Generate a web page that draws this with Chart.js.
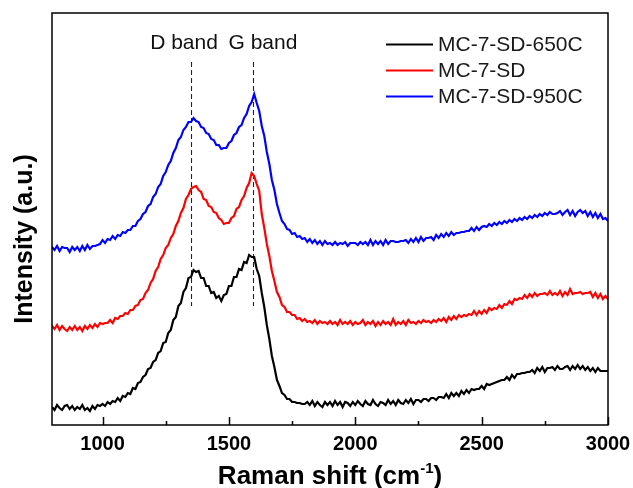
<!DOCTYPE html>
<html>
<head>
<meta charset="utf-8">
<script src="https://cdn.jsdelivr.net/npm/chart.js@4.4.1/dist/chart.umd.min.js"></script>
<style>
  html, body { margin: 0; padding: 0; background: #fff; }
  #wrap { width: 633px; height: 488px; }
</style>
</head>
<body>
<div id="wrap"><canvas id="raman" width="633" height="488"></canvas></div>
<script>
'use strict';

// Raman shift grid (cm-1)
const ramanShift = [
  800, 810, 820, 830, 840, 850, 860, 870, 880, 890,
  900, 910, 920, 930, 940, 950, 960, 970, 980, 990,
  1000, 1010, 1020, 1030, 1040, 1050, 1060, 1070, 1080, 1090,
  1100, 1110, 1120, 1130, 1140, 1150, 1160, 1170, 1180, 1190,
  1200, 1210, 1220, 1230, 1240, 1250, 1260, 1270, 1280, 1290,
  1300, 1310, 1320, 1330, 1340, 1350, 1360, 1370, 1380, 1390,
  1400, 1410, 1420, 1430, 1440, 1450, 1460, 1470, 1480, 1490,
  1500, 1510, 1520, 1530, 1540, 1550, 1560, 1570, 1580, 1590,
  1600, 1610, 1620, 1630, 1640, 1650, 1660, 1670, 1680, 1690,
  1700, 1710, 1720, 1730, 1740, 1750, 1760, 1770, 1780, 1790,
  1800, 1810, 1820, 1830, 1840, 1850, 1860, 1870, 1880, 1890,
  1900, 1910, 1920, 1930, 1940, 1950, 1960, 1970, 1980, 1990,
  2000, 2010, 2020, 2030, 2040, 2050, 2060, 2070, 2080, 2090,
  2100, 2110, 2120, 2130, 2140, 2150, 2160, 2170, 2180, 2190,
  2200, 2210, 2220, 2230, 2240, 2250, 2260, 2270, 2280, 2290,
  2300, 2310, 2320, 2330, 2340, 2350, 2360, 2370, 2380, 2390,
  2400, 2410, 2420, 2430, 2440, 2450, 2460, 2470, 2480, 2490,
  2500, 2510, 2520, 2530, 2540, 2550, 2560, 2570, 2580, 2590,
  2600, 2610, 2620, 2630, 2640, 2650, 2660, 2670, 2680, 2690,
  2700, 2710, 2720, 2730, 2740, 2750, 2760, 2770, 2780, 2790,
  2800, 2810, 2820, 2830, 2840, 2850, 2860, 2870, 2880, 2890,
  2900, 2910, 2920, 2930, 2940, 2950, 2960, 2970, 2980, 2990,
  3000
];

// stacked intensities (a.u., offsets included)
const mc650 = [
  18, 15, 20, 17, 15, 19, 20, 16, 19, 15,
  18, 16, 20, 15, 17, 14, 19, 16, 20, 19,
  21, 19, 23, 21, 24, 23, 27, 24, 29, 28,
  32, 31, 37, 36, 42, 43, 48, 50, 56, 57,
  63, 65, 72, 74, 82, 83, 92, 95, 105, 108,
  119, 122, 133, 137, 147, 148, 155, 153, 154, 147,
  147, 139, 139, 132, 133, 127, 129, 124, 130, 131,
  139, 139, 148, 148, 156, 155, 163, 162, 170, 168,
  168, 156, 149, 132, 118, 100, 86, 69, 58, 45,
  39, 32, 30, 26, 26, 23, 23, 22, 22, 21,
  21, 23, 20, 24, 19, 23, 20, 18, 23, 20,
  23, 19, 24, 20, 23, 18, 23, 22, 19, 23,
  20, 24, 21, 19, 24, 21, 20, 25, 21, 19,
  23, 22, 20, 25, 21, 24, 20, 25, 22, 21,
  25, 22, 26, 21, 25, 25, 23, 26, 26, 24,
  27, 27, 25, 28, 28, 27, 31, 27, 32, 29,
  32, 29, 34, 31, 35, 32, 36, 35, 36, 36,
  39, 36, 41, 40, 41, 42, 43, 44, 45, 45,
  48, 45, 50, 47, 51, 51, 52, 52, 53, 53,
  55, 52, 57, 54, 58, 53, 57, 57, 58, 55,
  59, 56, 56, 58, 59, 55, 59, 56, 60, 56,
  59, 55, 58, 54, 57, 53, 57, 54, 54, 54,
  54
];

const mcSD = [
  99, 96, 100, 95, 99, 96, 94, 98, 95, 99,
  95, 98, 94, 99, 96, 100, 97, 101, 98, 102,
  101, 102, 102, 105, 102, 107, 106, 109, 109, 112,
  111, 115, 115, 119, 120, 125, 126, 132, 135, 142,
  146, 154, 158, 166, 170, 177, 180, 187, 191, 199,
  204, 212, 217, 226, 230, 236, 238, 239, 235, 233,
  226, 225, 219, 218, 213, 212, 207, 205, 201, 202,
  202, 207, 209, 216, 218, 225, 229, 237, 242, 252,
  249, 241, 234, 211, 197, 181, 169, 154, 144, 133,
  128, 120, 118, 113, 113, 110, 110, 106, 107, 104,
  106, 103, 104, 102, 105, 101, 104, 102, 103, 101,
  104, 101, 103, 100, 105, 101, 103, 101, 104, 100,
  103, 101, 102, 105, 100, 103, 101, 104, 99, 103,
  100, 104, 101, 103, 100, 106, 100, 103, 101, 104,
  100, 105, 102, 103, 101, 104, 102, 105, 103, 104,
  102, 105, 103, 106, 104, 107, 103, 108, 105, 109,
  106, 110, 108, 110, 109, 111, 110, 114, 110, 114,
  111, 115, 112, 117, 115, 117, 116, 120, 117, 121,
  120, 124, 121, 126, 125, 127, 126, 130, 127, 131,
  128, 132, 129, 131, 131, 132, 130, 134, 130, 132,
  130, 134, 129, 133, 130, 136, 131, 132, 132, 133,
  131, 132, 132, 133, 128, 132, 127, 131, 126, 129,
  126
];

const mc950 = [
  178, 175, 179, 174, 178, 177, 177, 173, 178, 175,
  178, 174, 179, 175, 180, 176, 179, 179, 180, 181,
  185, 182, 186, 185, 189, 186, 190, 189, 193, 192,
  195, 195, 199, 199, 204, 206, 211, 213, 219, 221,
  228, 231, 238, 241, 249, 253, 260, 264, 272, 277,
  285, 288, 295, 298, 303, 303, 307, 304, 303, 298,
  297, 292, 291, 286, 285, 280, 280, 276, 277, 277,
  282, 284, 290, 292, 298, 300, 307, 311, 319, 323,
  331, 322, 314, 299, 289, 273, 261, 245, 235, 221,
  212, 204, 201, 196, 195, 191, 192, 188, 189, 186,
  187, 183, 186, 182, 185, 181, 184, 180, 184, 181,
  182, 180, 183, 180, 182, 181, 183, 179, 182, 182,
  182, 180, 183, 181, 183, 180, 185, 180, 184, 181,
  184, 180, 185, 181, 184, 184, 183, 183, 184, 184,
  185, 182, 186, 183, 187, 183, 188, 184, 187, 187,
  188, 185, 190, 187, 191, 188, 192, 189, 193, 190,
  192, 192, 193, 193, 194, 194, 197, 194, 198, 195,
  198, 199, 198, 201, 199, 202, 200, 203, 201, 204,
  202, 205, 203, 206, 204, 207, 205, 208, 206, 209,
  207, 210, 208, 211, 209, 212, 210, 213, 211, 211,
  212, 214, 210, 213, 215, 210, 214, 209, 213, 215,
  212, 214, 209, 213, 208, 212, 207, 211, 206, 207,
  204
];

const seriesNames = ['MC-7-SD-650C', 'MC-7-SD', 'MC-7-SD-950C'];
const seriesColors = ['#000000', '#ff0000', '#0000ff'];
const xTickValues = [1000, 1500, 2000, 2500, 3000];
const xMinorValues = [1250, 1750, 2250, 2750];
const bandShifts = [1350, 1595];
const bandNames = ['D band', 'G band'];
const bandLineRange = [119, 363];

const FONT = "'Liberation Sans', Arial, Helvetica, sans-serif";

const frameAndTicks = {
  id: 'frameAndTicks',
  afterDraw(chart) {
    const { ctx, chartArea: a, scales } = chart;
    const x = scales.x;
    ctx.save();
    ctx.strokeStyle = '#000';
    ctx.lineWidth = 1.5;
    ctx.strokeRect(a.left, a.top, a.right - a.left, a.bottom - a.top);
    ctx.beginPath();
    xTickValues.forEach(v => {
      const px = Math.round(x.getPixelForValue(v)) + 0.5;
      ctx.moveTo(px, a.bottom);
      ctx.lineTo(px, a.bottom - 8);
    });
    xMinorValues.forEach(v => {
      const px = Math.round(x.getPixelForValue(v)) + 0.5;
      ctx.moveTo(px, a.bottom);
      ctx.lineTo(px, a.bottom - 4);
    });
    ctx.stroke();
    ctx.restore();
  }
};

const bandMarks = {
  id: 'bandMarks',
  beforeDatasetsDraw(chart) {
    const { ctx, scales } = chart;
    const x = scales.x, y = scales.y;
    ctx.save();
    ctx.strokeStyle = '#222';
    ctx.lineWidth = 1.1;
    ctx.setLineDash([5, 3]);
    bandShifts.forEach(v => {
      const px = Math.round(x.getPixelForValue(v)) + 0.5;
      ctx.beginPath();
      ctx.moveTo(px, y.getPixelForValue(bandLineRange[1]));
      ctx.lineTo(px, y.getPixelForValue(bandLineRange[0]));
      ctx.stroke();
    });
    ctx.setLineDash([]);
    ctx.fillStyle = '#111';
    ctx.font = `21px ${FONT}`;
    ctx.textAlign = 'center';
    ctx.textBaseline = 'middle';
    const nudge = [-7, 10];
    bandShifts.forEach((v, i) => {
      ctx.fillText(bandNames[i], x.getPixelForValue(v) + nudge[i], 43);
    });
    ctx.restore();
  }
};

const insideLegend = {
  id: 'insideLegend',
  afterDraw(chart) {
    const { ctx } = chart;
    ctx.save();
    ctx.font = `21px ${FONT}`;
    ctx.textBaseline = 'middle';
    ctx.textAlign = 'left';
    chart.data.datasets.forEach((ds, i) => {
      const yy = 44 + i * 26;
      ctx.strokeStyle = ds.borderColor;
      ctx.lineWidth = 2;
      ctx.beginPath();
      ctx.moveTo(386, yy + 0.5);
      ctx.lineTo(433, yy + 0.5);
      ctx.stroke();
      ctx.fillStyle = '#1a1a1a';
      ctx.fillText(ds.label, 438, yy + 1);
    });
    ctx.restore();
  }
};

const axisTitles = {
  id: 'axisTitles',
  afterDraw(chart) {
    const { ctx, chartArea: a } = chart;
    ctx.save();
    ctx.fillStyle = '#000';
    // x title with superscript
    const big = `bold 26px ${FONT}`, small = `bold 15px ${FONT}`;
    const p1 = 'Raman shift (cm', sup = '-1', p2 = ')';
    ctx.font = big;
    const w1 = ctx.measureText(p1).width, w3 = ctx.measureText(p2).width;
    ctx.font = small;
    const w2 = ctx.measureText(sup).width;
    let cx = (a.left + a.right) / 2 - (w1 + w2 + w3) / 2;
    const base = 484;
    ctx.textBaseline = 'alphabetic';
    ctx.textAlign = 'left';
    ctx.font = big;
    ctx.fillText(p1, cx, base);
    cx += w1;
    ctx.font = small;
    ctx.fillText(sup, cx, base - 11);
    cx += w2;
    ctx.font = big;
    ctx.fillText(p2, cx, base);
    // y title
    ctx.font = `bold 25px ${FONT}`;
    ctx.translate(32, 239);
    ctx.rotate(-Math.PI / 2);
    ctx.textAlign = 'center';
    ctx.fillText('Intensity (a.u.)', 0, 0);
    ctx.restore();
  }
};

const datasets = [mc650, mcSD, mc950].map((vals, i) => ({
  label: seriesNames[i],
  data: ramanShift.map((s, k) => ({ x: s, y: vals[k] })),
  borderColor: seriesColors[i],
  borderWidth: 2.2,
  pointRadius: 0,
  tension: 0,
  fill: false
}));

new Chart(document.getElementById('raman'), {
  type: 'line',
  data: { datasets },
  options: {
    responsive: false,
    animation: false,
    layout: { padding: { left: 0, top: 13, right: 25, bottom: 0 } },
    scales: {
      x: {
        type: 'linear',
        min: 800,
        max: 3000,
        afterBuildTicks: (scale) => { scale.ticks = xTickValues.map(v => ({ value: v })); },
        afterFit: (scale) => {
          scale.height = 63;
          scale.paddingLeft = 0;
          scale.paddingRight = 0;
        },
        grid: { display: false, drawTicks: false },
        border: { display: false },
        ticks: {
          color: '#000',
          padding: 7,
          maxRotation: 0,
          callback: (v) => String(v),
          font: { family: FONT, size: 20, weight: 'bold' }
        },
        title: { display: false }
      },
      y: {
        min: 0,
        max: 412,
        afterFit: (scale) => {
          scale.width = 52;
          scale.paddingTop = 0;
          scale.paddingBottom = 0;
        },
        grid: { display: false, drawTicks: false },
        border: { display: false },
        ticks: { display: false },
        title: { display: false }
      }
    },
    plugins: {
      legend: { display: false },
      tooltip: { enabled: false }
    }
  },
  plugins: [frameAndTicks, bandMarks, insideLegend, axisTitles]
});
</script>
</body>
</html>
